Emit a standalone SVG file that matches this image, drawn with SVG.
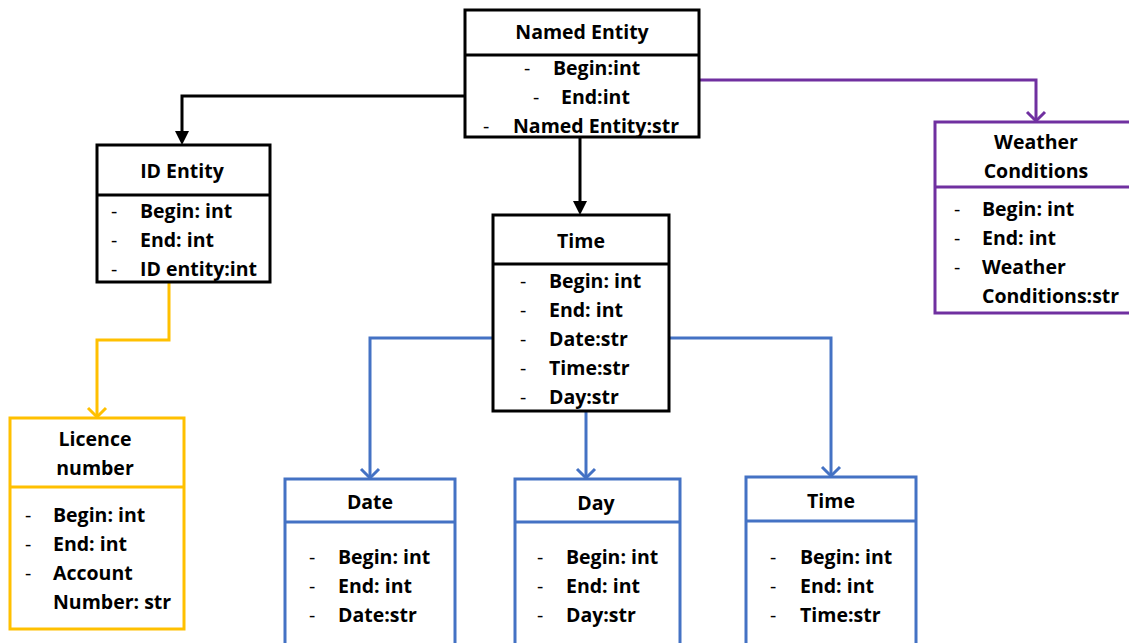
<svg xmlns="http://www.w3.org/2000/svg" width="1129" height="643" viewBox="0 0 1129 643">
  <style>
    text { font-family: "Open Sans", "Liberation Sans", sans-serif; font-weight: bold; font-size: 19.5px; fill: #000; }
    text.d { font-weight: normal; }
    .title { text-anchor: middle; }
    .box { fill: #fff; stroke-width: 3; }
    .div { stroke-width: 3; }
    .k { stroke: #000; }
    .p { stroke: #7030A0; }
    .y { stroke: #FFC000; }
    .b { stroke: #4472C4; }
    .edge { fill: none; stroke-width: 3; }
  </style>
  <defs>
    <marker id="arrPurple" markerUnits="userSpaceOnUse" markerWidth="22" markerHeight="22" refX="19" refY="11" orient="auto" viewBox="0 0 22 22">
      <path d="M10,2 L19,11 L10,20" fill="none" stroke="#7030A0" stroke-width="3"/>
    </marker>
    <marker id="arrYellow" markerUnits="userSpaceOnUse" markerWidth="22" markerHeight="22" refX="19" refY="11" orient="auto" viewBox="0 0 22 22">
      <path d="M10,2 L19,11 L10,20" fill="none" stroke="#FFC000" stroke-width="3"/>
    </marker>
    <marker id="arrBlue" markerUnits="userSpaceOnUse" markerWidth="22" markerHeight="22" refX="19" refY="11" orient="auto" viewBox="0 0 22 22">
      <path d="M10,2 L19,11 L10,20" fill="none" stroke="#4472C4" stroke-width="3"/>
    </marker>
  </defs>

  <rect width="1129" height="643" fill="#fff"/>

  <!-- connectors -->
  <g id="connectors">
    <path class="edge k" d="M465,96 H182 V133"/>
    <path d="M175,131 L189,131 L182,145 Z" fill="#000"/>
    <path class="edge k" d="M580,137 V203"/>
    <path d="M573,201 L587,201 L580,215 Z" fill="#000"/>
    <path class="edge p" d="M699,80 H1036 V121" marker-end="url(#arrPurple)"/>
    <path class="edge y" d="M169,282 V340 H97 V417" marker-end="url(#arrYellow)"/>
    <path class="edge b" d="M493,338 H370 V478" marker-end="url(#arrBlue)"/>
    <path class="edge b" d="M586,411 V478" marker-end="url(#arrBlue)"/>
    <path class="edge b" d="M669,338 H831 V476" marker-end="url(#arrBlue)"/>
  </g>

  <!-- Named Entity -->
  <g id="named-entity">
    <rect class="box k" x="465" y="10" width="234" height="127"/>
    <line class="div k" x1="465" y1="55" x2="699" y2="55"/>
    <text class="title" x="582" y="39">Named Entity</text>
    <text class="d" x="524" y="75">-</text><text x="553" y="75">Begin:int</text>
    <text class="d" x="533" y="104">-</text><text x="561" y="104">End:int</text>
    <text class="d" x="483" y="133">-</text><text x="513" y="133">Named Entity:str</text>
  </g>

  <!-- ID Entity -->
  <g id="id-entity">
    <rect class="box k" x="97" y="145" width="173" height="137"/>
    <line class="div k" x1="97" y1="195" x2="270" y2="195"/>
    <text class="title" x="182" y="178">ID Entity</text>
    <text class="d" x="111" y="218">-</text><text x="140" y="218">Begin: int</text>
    <text class="d" x="111" y="247">-</text><text x="140" y="247">End: int</text>
    <text class="d" x="111" y="276">-</text><text x="140" y="276">ID entity:int</text>
  </g>

  <!-- Time (parent) -->
  <g id="time">
    <rect class="box k" x="493" y="215" width="176" height="196"/>
    <line class="div k" x1="493" y1="264" x2="669" y2="264"/>
    <text class="title" x="581" y="248">Time</text>
    <text class="d" x="520" y="288">-</text><text x="549" y="288">Begin: int</text>
    <text class="d" x="520" y="317">-</text><text x="549" y="317">End: int</text>
    <text class="d" x="520" y="346">-</text><text x="549" y="346">Date:str</text>
    <text class="d" x="520" y="375">-</text><text x="549" y="375">Time:str</text>
    <text class="d" x="520" y="404">-</text><text x="549" y="404">Day:str</text>
  </g>

  <!-- Weather Conditions -->
  <g id="weather-conditions">
    <rect class="box p" x="935" y="122" width="197" height="191"/>
    <line class="div p" x1="935" y1="187" x2="1129" y2="187"/>
    <text class="title" x="1036" y="149">Weather</text>
    <text class="title" x="1036" y="178">Conditions</text>
    <text class="d" x="954" y="216">-</text><text x="982" y="216">Begin: int</text>
    <text class="d" x="954" y="245">-</text><text x="982" y="245">End: int</text>
    <text class="d" x="954" y="274">-</text><text x="982" y="274">Weather</text>
    <text x="982" y="303">Conditions:str</text>
  </g>

  <!-- Licence number -->
  <g id="licence-number">
    <rect class="box y" x="10" y="418" width="174" height="211"/>
    <line class="div y" x1="10" y1="487" x2="184" y2="487"/>
    <text class="title" x="95" y="446">Licence</text>
    <text class="title" x="95" y="475">number</text>
    <text class="d" x="25" y="522">-</text><text x="53" y="522">Begin: int</text>
    <text class="d" x="25" y="551">-</text><text x="53" y="551">End: int</text>
    <text class="d" x="25" y="580">-</text><text x="53" y="580">Account</text>
    <text x="53" y="609">Number: str</text>
  </g>

  <!-- Date -->
  <g id="date">
    <rect class="box b" x="285" y="479" width="170" height="170"/>
    <line class="div b" x1="285" y1="522" x2="455" y2="522"/>
    <text class="title" x="370" y="509">Date</text>
    <text class="d" x="309" y="564">-</text><text x="338" y="564">Begin: int</text>
    <text class="d" x="309" y="593">-</text><text x="338" y="593">End: int</text>
    <text class="d" x="309" y="622">-</text><text x="338" y="622">Date:str</text>
  </g>

  <!-- Day -->
  <g id="day">
    <rect class="box b" x="515" y="479" width="165" height="170"/>
    <line class="div b" x1="515" y1="522" x2="680" y2="522"/>
    <text class="title" x="596" y="510">Day</text>
    <text class="d" x="537" y="564">-</text><text x="566" y="564">Begin: int</text>
    <text class="d" x="537" y="593">-</text><text x="566" y="593">End: int</text>
    <text class="d" x="537" y="622">-</text><text x="566" y="622">Day:str</text>
  </g>

  <!-- Time (detail) -->
  <g id="time-detail">
    <rect class="box b" x="746" y="477" width="170" height="172"/>
    <line class="div b" x1="746" y1="521" x2="916" y2="521"/>
    <text class="title" x="831" y="508">Time</text>
    <text class="d" x="770" y="564">-</text><text x="800" y="564">Begin: int</text>
    <text class="d" x="770" y="593">-</text><text x="800" y="593">End: int</text>
    <text class="d" x="770" y="622">-</text><text x="800" y="622">Time:str</text>
  </g>
</svg>
